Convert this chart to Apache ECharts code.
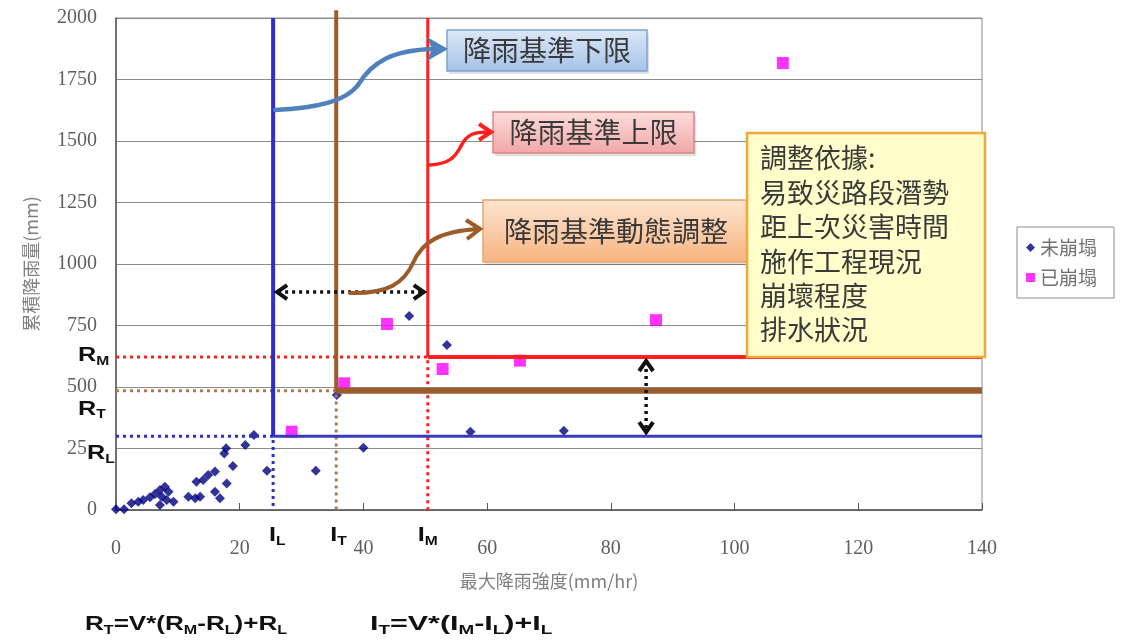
<!DOCTYPE html>
<html><head><meta charset="utf-8">
<script src="https://cdn.jsdelivr.net/npm/echarts@6/dist/echarts.min.js"></script>
<style>html,body{margin:0;padding:0;background:#fff}#c{width:1125px;height:644px}</style>
</head><body><div id="c"></div>
<script>
// ---- data ----
const xTicks = [0, 20, 40, 60, 80, 100, 120, 140];
const yTicks = [0, 250, 500, 750, 1000, 1250, 1500, 1750, 2000];
const seriesNames = ['未崩塌', '已崩塌'];
const notCollapsed = [
  [0,3],[1.3,3],[2.5,27],[3.6,34],[4.4,41],[5.5,52],[6.3,65],[7.1,81],[7.9,95],[8.5,74],
  [7.4,54],[7.1,20],[8.2,41],[9.3,34],[11.7,54],[12.8,48],[13.6,54],[13.0,115],[14.1,122],
  [14.9,142],[16.0,156],[16.0,74],[16.8,48],[17.9,108],[18.9,179],[17.5,230],[17.8,251],
  [20.9,264],[22.3,305],[24.4,160],[32.3,160],[35.7,467],[40.0,253],[47.4,789],[53.5,671],
  [57.3,318],[72.4,322]
];
const collapsed = [[28.4,318],[36.9,515],[43.8,756],[52.8,573],[65.3,607],[87.3,772],[107.8,1817]];
// thresholds
const IL = 25.4, IT = 35.6, IM = 50.4;
const RL = 300, RT = 485, RM = 622;
const arrowY = 886;      // horizontal double arrow level
const arrowX = 85.7;     // vertical double arrow position
const boxTexts = ['降雨基準下限', '降雨基準上限', '降雨基準動態調整'];
const basisLines = ['調整依據:', '易致災路段潛勢', '距上次災害時間', '施作工程現況', '崩壞程度', '排水狀況'];

const xMin = xTicks[0], xMax = xTicks[xTicks.length-1];
const yMin = yTicks[0], yMax = yTicks[yTicks.length-1];

const chart = echarts.init(document.getElementById('c'), null, {renderer:'canvas'});
const serif = '"Liberation Serif", "DejaVu Serif", serif';
const cjk = '"Noto Sans CJK TC", "Noto Sans", sans-serif';
const BLUE = '#2e2ecc', BROWN = '#9c5b2b', RED = '#ff1f1f';

function lineSeries(data, color, width, type, z) {
  return {type:'line', data, showSymbol:false, symbol:'none', clip:false, silent:true,
    lineStyle:{color, width, type: type || 'solid', cap:'butt'}, z: z || 5, animation:false};
}

const option = {
  animation: false,
  backgroundColor: '#fff',
  grid: {left:116, right:143, top:18, bottom:134, show:true, borderColor:'#8c8c8c', borderWidth:1},
  legend: {
    left: 1017, top: 227, orient:'vertical', borderColor:'#8c8c8c', borderWidth:1,
    padding:[11,17,11,9], itemGap:11, itemWidth:9, itemHeight:9,
    textStyle:{fontFamily:cjk, fontSize:19, color:'#707070'},
    data:[{name:seriesNames[0], icon:'diamond'}, {name:seriesNames[1], icon:'rect'}]
  },
  xAxis: {
    type:'value', min:xMin, max:xMax, interval:20,
    name:'最大降雨強度(mm/hr)', nameLocation:'middle', nameGap:62,
    nameTextStyle:{fontFamily:cjk, fontSize:18, color:'#7f7f7f'},
    axisLine:{lineStyle:{color:'#555', width:1.5}},
    axisTick:{inside:true, length:7, lineStyle:{color:'#555'}},
    axisLabel:{fontFamily:serif, fontSize:20, color:'#5f5f5f', margin:29, formatter:v => String(v)},
    splitLine:{show:false}
  },
  yAxis: {
    type:'value', min:yMin, max:yMax, interval:250,
    name:'累積降雨量(mm)', nameLocation:'middle', nameGap:76,
    nameTextStyle:{fontFamily:cjk, fontSize:18, color:'#7f7f7f'},
    axisLine:{show:true, lineStyle:{color:'#555', width:1.5}},
    axisTick:{show:false},
    axisLabel:{fontFamily:serif, fontSize:20, color:'#5f5f5f', margin:19, formatter:v => String(v)},
    splitLine:{lineStyle:{color:'#8c8c8c', width:1}}
  },
  series: [
    {name:seriesNames[0], type:'scatter', data:notCollapsed, symbol:'diamond', symbolSize:10,
      itemStyle:{color:'#000080'}, z:3},
    {name:seriesNames[1], type:'scatter', data:collapsed, symbol:'rect', symbolSize:12,
      itemStyle:{color:'#ff00ff'}, z:3},
    // dotted projections
    lineSeries([[xMin,RL],[IL,RL],[IL,yMin]], BLUE, 3, [3,4], 4),
    lineSeries([[xMin,RT],[IT,RT],[IT,yMin]], '#b07a4a', 3, [3,4], 4),
    lineSeries([[xMin,RM],[IM,RM],[IM,yMin]], RED, 3, [3,4], 4),
    // solid thresholds
    lineSeries([[IL,yMax],[IL,RL]], BLUE, 4),
    lineSeries([[IL,RL],[xMax,RL]], '#3a3ac0', 3),
    lineSeries([[IT,yMax+32],[IT,RT]], BROWN, 4),
    lineSeries([[IT,RT],[xMax,RT]], BROWN, 6),
    lineSeries([[IM,yMax],[IM,RM]], RED, 3),
    lineSeries([[IM,RM],[xMax,RM]], RED, 4)
  ]
};
chart.setOption(option);

// ---- annotations ----
const P = (x, y) => chart.convertToPixel({gridIndex:0}, [x, y]);
const ctx = document.createElement('canvas').getContext('2d');
function tw(font, s) { ctx.font = font; return ctx.measureText(s).width; }
const sansB = '"Liberation Sans", Arial, sans-serif';
function subText(x, y, parts, size, sx) {
  const SX = sx || 1.2;
  const fm = 'bold ' + size + 'px ' + sansB;
  const ss = Math.round(size * 0.62);
  const fs = 'bold ' + ss + 'px ' + sansB;
  let cx = x;
  const els = [];
  parts.forEach(p => {
    const f = p[1] ? fs : fm;
    els.push({type:'text', x:cx, y: p[1] ? y + size * 0.45 : y, scaleX:SX, z:100,
      style:{text:p[0], font:f, fill:'#111', align:'left', verticalAlign:'top'}});
    cx += tw(f, p[0]) * SX;
  });
  return els;
}
function grad(c1, c2) {
  return {type:'linear', x:0, y:0, x2:0, y2:1, colorStops:[{offset:0,color:c1},{offset:1,color:c2}]};
}
function box(x, y, w, h, fill, stroke, text) {
  return [
    {type:'rect', shape:{x:x+2, y:y+3, width:w, height:h}, style:{fill:'rgba(0,0,0,0.12)'}, z:90},
    {type:'rect', shape:{x, y, width:w, height:h}, style:{fill, stroke, lineWidth:1.5}, z:91},
    {type:'text', x:x + w/2, y:y + h/2, z:92,
      style:{text, font:'28px ' + cjk, fill:'#3a3a3a', align:'center', verticalAlign:'middle'}}
  ];
}
function chevron(pts, color) {
  return {type:'polyline', shape:{points:pts}, style:{stroke:color, lineWidth:4, fill:null, lineJoin:'miter'}, z:95};
}
function curve(segs, color, w) {
  return segs.map(s => ({type:'bezierCurve',
    shape:{x1:s[0], y1:s[1], cpx1:s[2], cpy1:s[3], cpx2:s[4], cpy2:s[5], x2:s[6], y2:s[7]},
    style:{stroke:color, lineWidth:w, fill:null, lineCap:'round'}, z:95}));
}

const g = [];
// white cover where R_L sits on the 250 label
g.push({type:'rect', shape:{x:86, y:438, width:27, height:26}, style:{fill:'#fff'}, z:99});
// R labels
const pRM = P(xMin, RM), pRT = P(xMin, RT), pRL = P(xMin, RL);
g.push(...subText(78, pRM[1] - 12, [['R',0],['M',1]], 21));
g.push(...subText(78, pRT[1] + 8, [['R',0],['T',1]], 21));
g.push(...subText(87, pRL[1] + 7, [['R',0],['L',1]], 21));
// I labels
const axY = P(xMin, yMin)[1];
g.push(...subText(P(IL,0)[0] - 4, axY + 15, [['I',0],['L',1]], 21));
g.push(...subText(P(IT,0)[0] - 6, axY + 15, [['I',0],['T',1]], 21));
g.push(...subText(P(IM,0)[0] - 10, axY + 15, [['I',0],['M',1]], 21));
// formulas
g.push(...subText(85, 614, [['R',0],['T',1],['=V*(R',0],['M',1],['-R',0],['L',1],[')+R',0],['L',1]], 21, 1.24));
g.push(...subText(370, 614, [['I',0],['T',1],['=V*(I',0],['M',1],['-I',0],['L',1],[')+I',0],['L',1]], 21, 1.45));

// boxes
g.push(...box(447, 30, 200, 41, grad('#dce8f7', '#a5c2e8'), '#7da2d4', boxTexts[0]));
g.push(...box(493, 112, 201, 41, grad('#fcdede', '#f2a5a5'), '#e08585', boxTexts[1]));
g.push(...box(483, 200, 266, 62, grad('#fde6d2', '#f7b380'), '#e9a56a', boxTexts[2]));
// yellow basis box
g.push({type:'rect', shape:{x:747, y:133, width:238, height:224}, style:{fill:'#fffdc9', stroke:'#f2a93b', lineWidth:2.5}, z:93});
g.push({type:'text', x:760, y:141, z:94,
  style:{text:basisLines.join('\n'), font:'27px ' + cjk, lineHeight:34.4, fill:'#3a3a3a', align:'left', verticalAlign:'top'}});

// curved arrows
g.push(...curve([[275,110,315,108,345,102,358,85],[358,85,372,62,392,50,434,49]], '#4f81bd', 4.5));
g.push({type:'polygon', shape:{points:[[427,37],[448,49],[427,61],[432,49]]}, style:{fill:'#4f81bd'}, z:95});
g.push(...curve([[430,165,448,164,455,158,461,146],[461,146,467,134,474,132,489,132]], RED, 3.5));
g.push(chevron([[479,124],[491,132],[479,140]], RED));
g.push(...curve([[350,293,388,294,404,283,413,263],[413,263,422,242,440,231,478,229]], BROWN, 4));
g.push(chevron([[466,220],[480,229],[467,239]], BROWN));

// dotted double arrows
const h1 = P(IL, arrowY), h2 = P(IM, arrowY);
g.push({type:'line', shape:{x1:h1[0]+5, y1:h1[1], x2:h2[0]-5, y2:h2[1]}, style:{stroke:'#111', lineWidth:3.5, lineDash:[3,4]}, z:94});
g.push(chevron([[h1[0]+14, h1[1]-7],[h1[0]+4, h1[1]],[h1[0]+14, h1[1]+7]], '#111'));
g.push(chevron([[h2[0]-14, h2[1]-7],[h2[0]-4, h2[1]],[h2[0]-14, h2[1]+7]], '#111'));
const v1 = P(arrowX, RM), v2 = P(arrowX, RL);
g.push({type:'line', shape:{x1:v1[0], y1:v1[1]+5, x2:v2[0], y2:v2[1]-5}, style:{stroke:'#111', lineWidth:3.5, lineDash:[3,4]}, z:94});
g.push(chevron([[v1[0]-7, v1[1]+14],[v1[0], v1[1]+4],[v1[0]+7, v1[1]+14]], '#111'));
g.push(chevron([[v2[0]-7, v2[1]-14],[v2[0], v2[1]-4],[v2[0]+7, v2[1]-14]], '#111'));

chart.setOption({graphic: g});
</script>
</body></html>
